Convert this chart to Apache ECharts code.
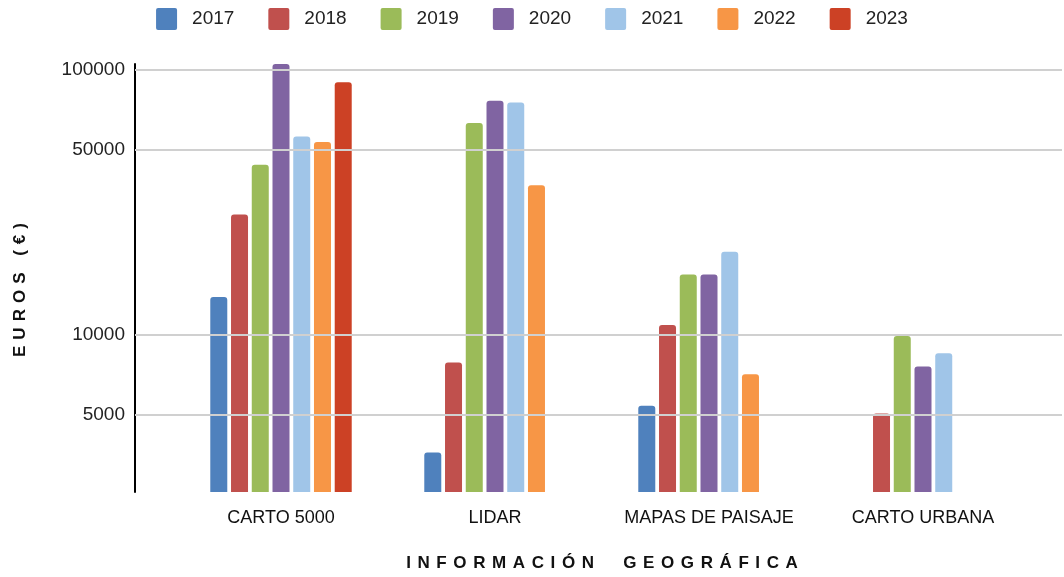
<!DOCTYPE html>
<html>
<head>
<meta charset="utf-8">
<script src="https://cdn.jsdelivr.net/npm/echarts@6/dist/echarts.min.js"></script>
<style>html,body{margin:0;padding:0;background:#fff}#c{width:1064px;height:577px}</style>
</head>
<body>
<div id="c"></div>
<script>
const categories = ['CARTO 5000', 'LIDAR', 'MAPAS DE PAISAJE', 'CARTO URBANA'];
const years = ['2017', '2018', '2019', '2020', '2021', '2022', '2023'];
const v2017 = [13900, 3610, 5410, null];
const v2018 = [28440, 7870, 10900, 5060];
const v2019 = [43840, 62870, 16910, 9910];
const v2020 = [105000, 76260, 16910, 7600];
const v2021 = [55980, 75160, 20580, 8540];
const v2022 = [53330, 36640, 7110, null];
const v2023 = [89650, null, null, null];
const tickLabels = [5000, 10000, 50000, 100000];
const xTitle = 'INFORMACIÓN  GEOGRÁFICA';
const yTitle = 'EUROS (€)';
const colors = ['#4F81BD', '#C0504D', '#9BBB59', '#8064A2', '#A0C5E8', '#F79646', '#CC4125'];
const seriesValues = [v2017, v2018, v2019, v2020, v2021, v2022, v2023];

const chart = echarts.init(document.getElementById('c'), null, {renderer: 'canvas'});
const yMin = 2560, yMax = 105000;
const font = 'Liberation Sans, Arial, sans-serif';
const titleFont = 'bold 17px "Liberation Sans", Arial, sans-serif';

// letter-spaced text built from individual characters
const mctx = document.createElement('canvas').getContext('2d');
mctx.font = titleFont;
function spacedChars(str, spacing) {
  const chars = Array.from(str);
  const widths = chars.map(c => mctx.measureText(c).width);
  const total = widths.reduce((a, b) => a + b, 0) + spacing * (chars.length - 1);
  let x = -total / 2;
  const out = [];
  chars.forEach((c, i) => {
    if (c !== ' ') {
      out.push({type: 'text', x: x, y: 0, silent: true,
        style: {text: c, font: titleFont, fill: '#111', textAlign: 'left', textVerticalAlign: 'middle'}});
    }
    x += widths[i] + spacing;
  });
  return out;
}

const barSeries = years.map((y, i) => ({
  name: y,
  type: 'bar',
  xAxisIndex: 1,
  yAxisIndex: 1,
  data: seriesValues[i],
  barWidth: 17,
  barGap: '22%',
  z: 3,
  itemStyle: {color: colors[i], borderRadius: [3, 3, 0, 0]}
}));

chart.setOption({
  animation: false,
  color: colors,
  legend: {
    data: years,
    top: 3,
    left: 'center',
    itemWidth: 21,
    itemHeight: 22,
    itemGap: 34,
    icon: 'path://M2,0 H19 Q21,0 21,2 V20 Q21,22 19,22 H2 Q0,22 0,20 V2 Q0,0 2,0 Z',
    selectedMode: false,
    textStyle: {fontFamily: font, fontSize: 19, color: '#222', padding: [0, 0, 0, 10]}
  },
  grid: [
    {left: 135, right: 2, top: 64, bottom: 85},
    {left: 174, right: 34, top: 64, bottom: 85}
  ],
  xAxis: [
    {gridIndex: 0, type: 'value', min: 0, max: 1, show: false},
    {
      gridIndex: 1, type: 'category', data: categories,
      axisLine: {show: false}, axisTick: {show: false},
      axisLabel: {interval: 0, fontFamily: font, fontSize: 18, color: '#111', margin: 17}
    }
  ],
  yAxis: [
    {
      gridIndex: 0, type: 'log', min: yMin, max: yMax,
      axisLine: {show: true, lineStyle: {color: '#000', width: 2}},
      axisTick: {show: false}, axisLabel: {show: false}, splitLine: {show: false}
    },
    {
      gridIndex: 1, type: 'log', min: yMin, max: yMax, show: false,
      splitLine: {show: false}
    }
  ],
  graphic: [
    {type: 'group', x: 602, y: 563, children: spacedChars(xTitle, 6.6)},
    {type: 'group', x: 20, y: 290, rotation: Math.PI / 2, children: spacedChars(yTitle, 6.0)}
  ],
  series: [
    {
      type: 'line', xAxisIndex: 0, yAxisIndex: 0, data: [[0.5, 5000]],
      showSymbol: false, symbolSize: 0, lineStyle: {width: 0, opacity: 0}, silent: true, z: 1,
      markLine: {
        silent: true, symbol: ['none', 'none'], animation: false,
        lineStyle: {color: '#D0D0D0', width: 2, type: 'solid'},
        label: {show: true, position: 'start', distance: 10, formatter: '{c}', fontFamily: font, fontSize: 19, color: '#222'},
        data: tickLabels.map(v => ({yAxis: v}))
      }
    }
  ].concat(barSeries)
});
</script>
</body>
</html>
